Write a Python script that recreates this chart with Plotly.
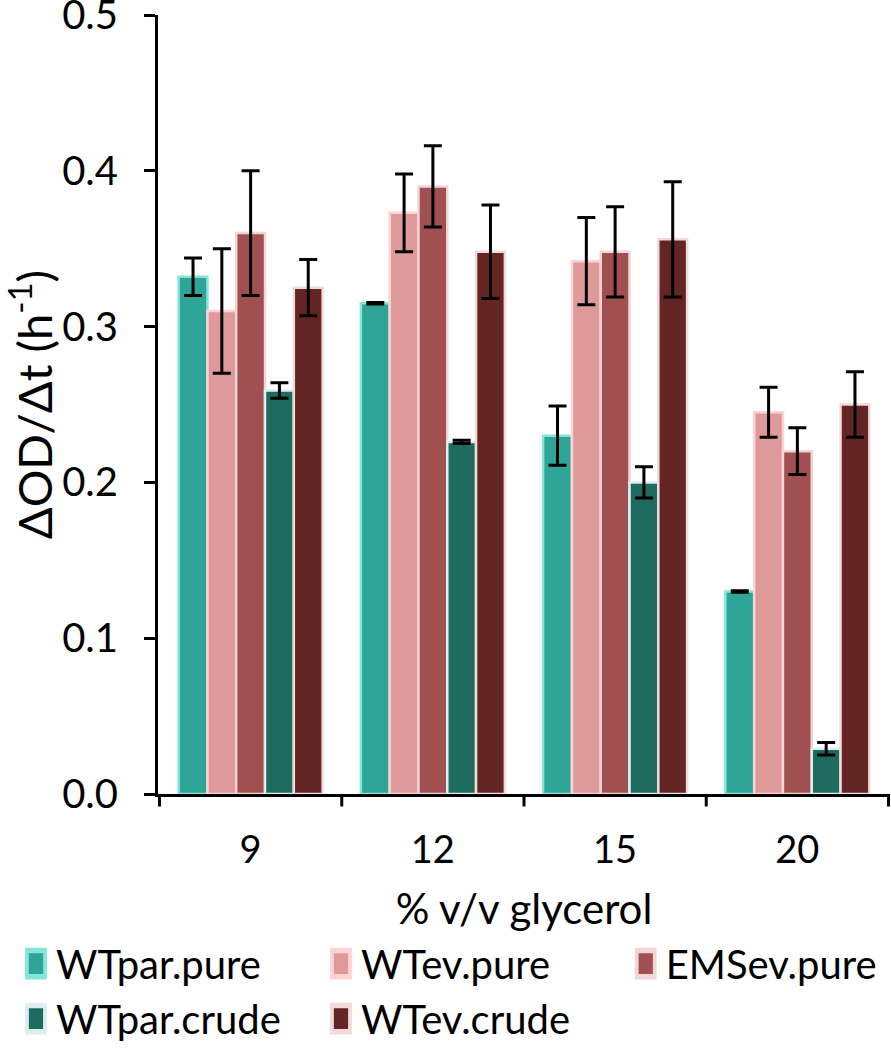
import plotly.graph_objects as go

categories = ["9", "12", "15", "20"]
series_names = ["WTpar.pure", "WTev.pure", "EMSev.pure", "WTpar.crude", "WTev.crude"]
wtpar_pure = [0.332, 0.315, 0.230, 0.130]
wtpar_pure_err = [0.012, 0.0005, 0.019, 0.0005]
wtev_pure = [0.310, 0.373, 0.342, 0.245]
wtev_pure_err = [0.040, 0.025, 0.028, 0.016]
emsev_pure = [0.360, 0.390, 0.348, 0.220]
emsev_pure_err = [0.040, 0.026, 0.029, 0.015]
wtpar_crude = [0.259, 0.226, 0.200, 0.029]
wtpar_crude_err = [0.005, 0.001, 0.010, 0.004]
wtev_crude = [0.325, 0.348, 0.356, 0.250]
wtev_crude_err = [0.018, 0.030, 0.037, 0.021]

values = [wtpar_pure, wtev_pure, emsev_pure, wtpar_crude, wtev_crude]
errors = [wtpar_pure_err, wtev_pure_err, emsev_pure_err, wtpar_crude_err, wtev_crude_err]
fills = ["#2EA597", "#DE9A9A", "#A05050", "#1E6B5F", "#632424"]
edges = ["#82E6DA", "#FFD3D3", "#F2D6D6", "#DCEEF2", "#F2DADA"]
legend_ids = ["legend", "legend", "legend2", "legend", "legend"]

FONT = "Lato, 'Open Sans', sans-serif"

fig = go.Figure()
for name, v, e, fc, ec, lg in zip(series_names, values, errors, fills, edges, legend_ids):
    fig.add_trace(go.Bar(
        name=name, x=categories, y=v, legend=lg,
        marker=dict(color=fc, line=dict(color=ec, width=2.5)),
        error_y=dict(type="data", array=e, visible=True, color="black", thickness=3, width=9),
    ))

legend_common = dict(
    orientation="h", yanchor="top", xanchor="left",
    font=dict(family=FONT, size=40, color="black"),
    entrywidth=260, entrywidthmode="pixels", tracegroupgap=0,
    bgcolor="rgba(0,0,0,0)",
)

fig.update_layout(
    barmode="group",
    bargap=0.21,
    bargroupgap=0,
    width=891, height=1049,
    margin=dict(l=158, r=1, t=15, b=255, autoexpand=False),
    plot_bgcolor="white", paper_bgcolor="white",
    font=dict(family=FONT, size=38, color="black"),
    legend=dict(x=-0.194, y=-0.176, **legend_common),
    legend2=dict(x=0.639, y=-0.176, **legend_common),
    xaxis=dict(
        showline=True, linecolor="black", linewidth=3,
        ticks="", tickfont=dict(size=38), ticklabelstandoff=20,
        title=dict(text="% v/v glycerol", font=dict(size=42), standoff=26),
        showgrid=False, automargin=False,
    ),
    yaxis=dict(
        range=[0, 0.5], dtick=0.1, tickformat=".1f",
        showline=True, linecolor="black", linewidth=3,
        ticks="outside", ticklen=11, tickwidth=3, tickcolor="black",
        tickfont=dict(size=40), showgrid=False, zeroline=False,
        ticklabeloverflow="allow", automargin=False, ticklabelstandoff=18,
        title=dict(text="ΔOD/Δt (h<sup>-1</sup>)", font=dict(size=47), standoff=6),
    ),
)

# category separator ticks on x axis
for i in range(len(categories) + 1):
    fig.add_shape(type="line", xref="x", yref="paper",
                  x0=i - 0.5, x1=i - 0.5, y0=0, y1=-0.016,
                  line=dict(color="black", width=3))

post = (
    "document.body.style.margin='0';"
    "document.querySelectorAll('.legendpoints path').forEach(function(p){"
    "var t=p.getAttribute('transform')||'';"
    "p.setAttribute('transform', t+' scale(1.5,2.2)');});"
)
fig.write_html("out.html", config={"displayModeBar": False}, post_script=post)
